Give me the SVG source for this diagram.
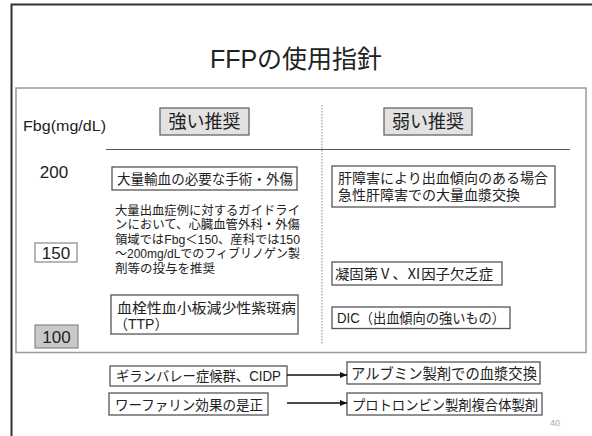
<svg xmlns="http://www.w3.org/2000/svg" width="592" height="436" viewBox="0 0 592 436">
<defs>
<style>
text{font-family:"Liberation Sans","Noto Sans CJK JP",sans-serif;fill:#222}
.jp{font-family:"Noto Sans CJK JP",sans-serif}
.box{fill:#fff;stroke:#555;stroke-width:1.3}
.hdr{fill:#e2e2e2;stroke:#666;stroke-width:1.3}
.num{font-size:17px;text-anchor:middle}
.t14{font-size:14px}
.p{font-size:12.5px}
</style>
<marker id="ah" markerWidth="8" markerHeight="8" refX="7" refY="4" orient="auto" markerUnits="userSpaceOnUse">
<path d="M0,1 L7,4 L0,7 Z" fill="#111"/>
</marker>
</defs>
<rect width="592" height="436" fill="#fff"/>
<g id="slide-border" fill="none" stroke="#333" stroke-width="2">
<path d="M11.5,436 V4.5 H592"/>
</g>
<g id="title"><text x="296" y="68" font-size="25" text-anchor="middle">FFPの使用指針</text></g>
<g id="panel">
<rect x="16" y="88" width="570" height="264.5" fill="none" stroke="#999" stroke-width="1.5"/>
<line x1="106" y1="149.5" x2="570" y2="149.5" stroke="#555" stroke-width="1.2"/>
<line x1="322" y1="105" x2="322" y2="344" stroke="#888" stroke-width="1" stroke-dasharray="1.5,1.5"/>
</g>
<g id="axis-label"><text x="23" y="131" font-size="15" textLength="83" lengthAdjust="spacingAndGlyphs">Fbg(mg/dL)</text></g>
<g id="hdr-strong"><rect class="hdr" x="160" y="108" width="89" height="27"/><text class="jp" x="204.5" y="128" font-size="18" text-anchor="middle">強い推奨</text></g>
<g id="hdr-weak"><rect class="hdr" x="384" y="108" width="88" height="27"/><text class="jp" x="428" y="128" font-size="18" text-anchor="middle">弱い推奨</text></g>
<g id="v200"><text class="num" x="54" y="178">200</text></g>
<g id="v150"><rect x="35" y="243" width="42" height="19" fill="#fff" stroke="#888" stroke-width="1.2"/><text class="num" x="56" y="258.5">150</text></g>
<g id="v100"><rect x="35" y="325" width="43" height="23" fill="#c9c9c9" stroke="#888" stroke-width="1.2"/><text class="num" x="56.5" y="342.5">100</text></g>
<g id="massive"><rect class="box" x="112" y="167" width="185" height="23"/><text class="t14" x="117" y="183.5" textLength="176" lengthAdjust="spacingAndGlyphs">大量輸血の必要な手術・外傷</text></g>
<g id="guideline">
<text class="p" x="115" y="214.5" textLength="185" lengthAdjust="spacingAndGlyphs">大量出血症例に対するガイドライ</text>
<text class="p" x="115" y="229" textLength="185" lengthAdjust="spacingAndGlyphs">ンにおいて、心臓血管外科・外傷</text>
<text class="p" x="115" y="243.5" textLength="185" lengthAdjust="spacingAndGlyphs">領域ではFbg＜150、産科では150</text>
<text class="p" x="115" y="258" textLength="185" lengthAdjust="spacingAndGlyphs">～200mg/dLでのフィブリノゲン製</text>
<text class="p" x="115" y="272.5">剤等の投与を推奨</text>
</g>
<g id="ttp"><rect class="box" x="111" y="295" width="187" height="39"/><text class="t14" x="117" y="313" textLength="179" lengthAdjust="spacingAndGlyphs">血栓性血小板減少性紫斑病</text><text class="t14" x="114" y="329">（TTP）</text></g>
<g id="liver"><rect class="box" x="332" y="166" width="223" height="41"/><text class="t14" x="338" y="183" textLength="210" lengthAdjust="spacingAndGlyphs">肝障害により出血傾向のある場合</text><text class="t14" x="338" y="200" textLength="182" lengthAdjust="spacingAndGlyphs">急性肝障害での大量血漿交換</text></g>
<g id="factor"><rect class="box" x="332" y="262" width="170" height="23"/><text class="t14" x="335" y="279" textLength="158" lengthAdjust="spacingAndGlyphs">凝固第Ⅴ、Ⅺ因子欠乏症</text></g>
<g id="dic"><rect class="box" x="332" y="307" width="178" height="21.5"/><text class="t14" x="337" y="323" textLength="168" lengthAdjust="spacingAndGlyphs">DIC（出血傾向の強いもの）</text></g>
<g id="gbs"><rect class="box" x="110" y="366" width="177" height="20"/><text class="t14" x="116" y="381" textLength="165" lengthAdjust="spacingAndGlyphs">ギランバレー症候群、CIDP</text></g>
<g id="warfarin"><rect class="box" x="109" y="393" width="159" height="22"/><text class="t14" x="115" y="409.5" textLength="148" lengthAdjust="spacingAndGlyphs">ワーファリン効果の是正</text></g>
<g id="albumin"><rect class="box" x="347" y="362" width="193" height="22"/><text x="351" y="378.5" font-size="15" textLength="186" lengthAdjust="spacingAndGlyphs">アルブミン製剤での血漿交換</text></g>
<g id="pcc"><rect class="box" x="347" y="393" width="195" height="22"/><text class="t14" x="352" y="409.5" textLength="186" lengthAdjust="spacingAndGlyphs">プロトロンビン製剤複合体製剤</text></g>
<g id="connectors" stroke="#111" stroke-width="1.3" fill="none">
<line x1="287" y1="375" x2="347" y2="375" marker-end="url(#ah)"/>
<line x1="287" y1="403" x2="347" y2="403" marker-end="url(#ah)"/>
</g>
<g id="page-number"><text x="550" y="426" font-size="9" style="fill:#aaa">40</text></g>
</svg>
